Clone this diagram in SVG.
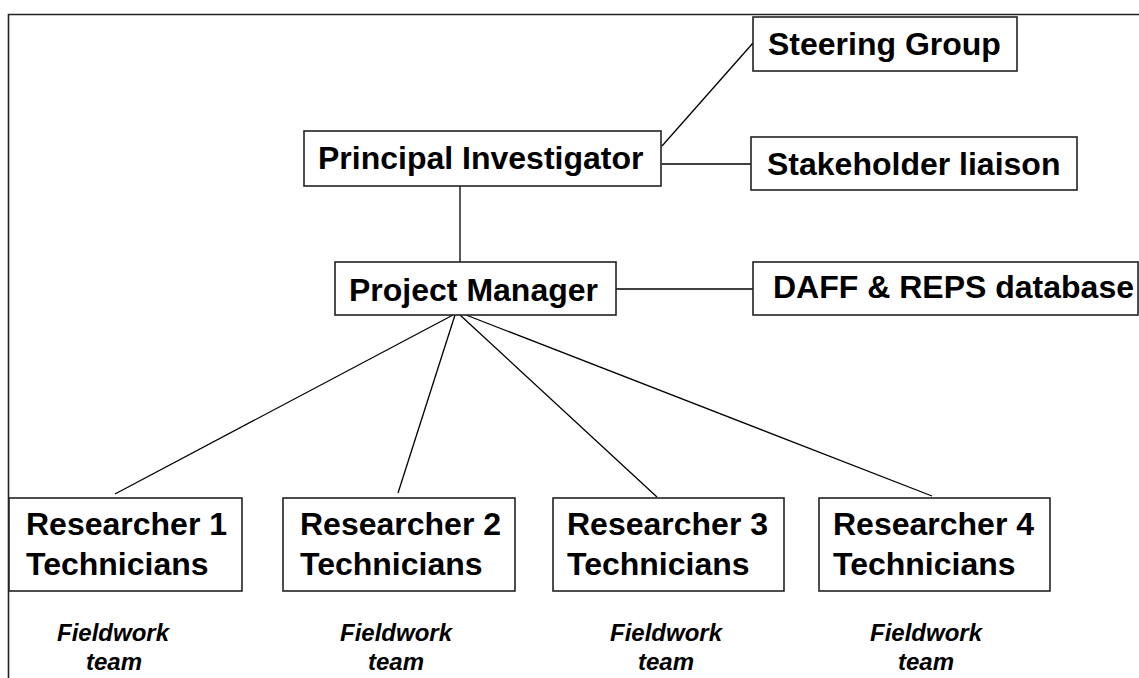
<svg xmlns="http://www.w3.org/2000/svg" width="1139" height="678" viewBox="0 0 1139 678">
<style>
.box{fill:#fff;stroke:#222;stroke-width:1.6}
.t{font-family:"Liberation Sans",Arial,sans-serif;font-weight:bold;font-size:32px;fill:#000}
.f{font-family:"Liberation Sans",Arial,sans-serif;font-weight:bold;font-style:italic;font-size:24px;fill:#000;text-anchor:middle}
.c{stroke:#000;stroke-width:1.3;fill:none}
</style>
<rect x="0" y="0" width="1139" height="678" fill="#fff"/>
<path d="M8.5,678 V14.5 H1139" fill="none" stroke="#222" stroke-width="1.6"/>
<g id="connectors">
<line class="c" x1="662" y1="146" x2="753" y2="43"/>
<line class="c" x1="662" y1="164" x2="751" y2="164"/>
<line class="c" x1="460" y1="186" x2="460" y2="262"/>
<line class="c" x1="616" y1="289" x2="753" y2="289"/>
<line class="c" x1="453" y1="315" x2="115" y2="494"/>
<line class="c" x1="455" y1="315" x2="398" y2="493"/>
<line class="c" x1="460" y1="315" x2="657" y2="497"/>
<line class="c" x1="466" y1="315" x2="932" y2="496"/>
</g>
<g id="steering-group">
<rect class="box" x="753" y="17" width="264" height="54"/>
<text class="t" x="768" y="55">Steering Group</text>
</g>
<g id="principal-investigator">
<rect class="box" x="304" y="131" width="357" height="55"/>
<text class="t" x="318" y="169">Principal Investigator</text>
</g>
<g id="stakeholder-liaison">
<rect class="box" x="751" y="137" width="326" height="53"/>
<text class="t" x="767" y="175">Stakeholder liaison</text>
</g>
<g id="project-manager">
<rect class="box" x="335" y="262" width="281" height="53"/>
<text class="t" x="349" y="301">Project Manager</text>
</g>
<g id="daff-reps-database">
<rect class="box" x="753" y="262" width="385" height="53"/>
<text class="t" x="773" y="298">DAFF &amp; REPS database</text>
</g>
<g id="researcher-1">
<rect class="box" x="9" y="498" width="233" height="93"/>
<text class="t" x="26" y="535">Researcher 1</text>
<text class="t" x="26" y="575">Technicians</text>
</g>
<g id="researcher-2">
<rect class="box" x="283" y="498" width="232" height="93"/>
<text class="t" x="300" y="535">Researcher 2</text>
<text class="t" x="300" y="575">Technicians</text>
</g>
<g id="researcher-3">
<rect class="box" x="553" y="498" width="231" height="93"/>
<text class="t" x="567" y="535">Researcher 3</text>
<text class="t" x="567" y="575">Technicians</text>
</g>
<g id="researcher-4">
<rect class="box" x="819" y="498" width="231" height="93"/>
<text class="t" x="833" y="535">Researcher 4</text>
<text class="t" x="833" y="575">Technicians</text>
</g>
<g id="fieldwork-labels">
<text class="f" x="113" y="641">Fieldwork</text>
<text class="f" x="114" y="670">team</text>
<text class="f" x="396" y="641">Fieldwork</text>
<text class="f" x="396" y="670">team</text>
<text class="f" x="666" y="641">Fieldwork</text>
<text class="f" x="666" y="670">team</text>
<text class="f" x="926" y="641">Fieldwork</text>
<text class="f" x="926" y="670">team</text>
</g>
</svg>
